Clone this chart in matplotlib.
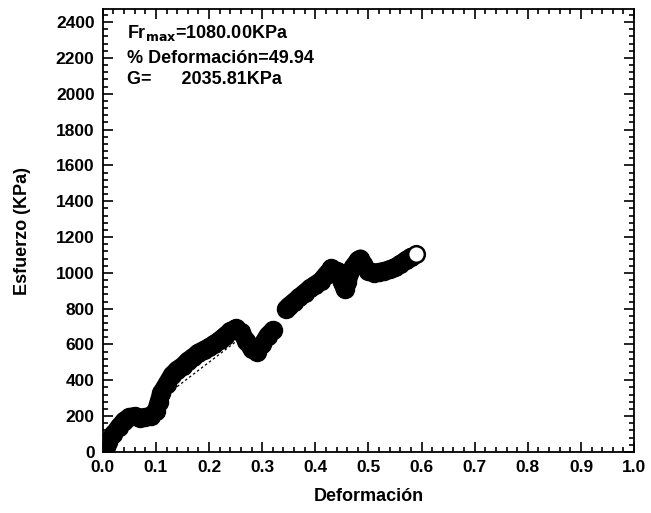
import matplotlib.pyplot as plt
from matplotlib.ticker import MultipleLocator, FormatStrFormatter

def1 = [0.00, 0.005, 0.01, 0.02, 0.03, 0.04, 0.05, 0.06, 0.07, 0.08,
        0.09, 0.10, 0.105, 0.11, 0.12, 0.13, 0.14, 0.15, 0.16, 0.17,
        0.18, 0.19, 0.20, 0.21, 0.22, 0.23, 0.24, 0.25, 0.26, 0.27,
        0.28, 0.29, 0.30, 0.31, 0.32]
esf1 = [0, 25, 55, 100, 140, 175, 195, 200, 190, 195,
        200, 230, 280, 330, 380, 430, 460, 480, 510, 530,
        555, 570, 585, 605, 625, 650, 675, 690, 670, 620,
        575, 560, 600, 650, 680]
def2 = [0.345, 0.35, 0.36, 0.37, 0.38, 0.39, 0.40, 0.41, 0.42, 0.43,
        0.44, 0.45, 0.455, 0.46, 0.47, 0.48, 0.485, 0.49, 0.50, 0.51,
        0.52, 0.53, 0.54, 0.55, 0.56, 0.57, 0.58]
esf2 = [800, 815, 840, 865, 890, 915, 935, 955, 990, 1025,
        1010, 950, 910, 950, 1030, 1070, 1080, 1050, 1010, 1000,
        1005, 1010, 1020, 1030, 1050, 1070, 1090]
ultimo = (0.59, 1105)

# linea punteada de ajuste
ajuste_x = [0.14, 0.25]
ajuste_y = [365, 615]

fuente = 'Liberation Sans'

fig = plt.figure(figsize=(6.51, 5.13), dpi=100)
ax = fig.add_axes([0.158, 0.119, 0.816, 0.863])
ax.plot(ajuste_x, ajuste_y, color='black', linestyle='--', linewidth=0.9, dashes=(2, 2))
for xs, ys in [(def1, esf1), (def2, esf2)]:
    ax.plot(xs, ys, '-', color='black', linewidth=13, solid_capstyle='round')
    ax.plot(xs, ys, 'o', color='black', markersize=13)
ax.plot([ultimo[0]], [ultimo[1]], 'o', markersize=12, markerfacecolor='white',
        markeredgecolor='black', markeredgewidth=1.8)

ax.set_xlim(0, 1.0)
ax.set_ylim(0, 2472)
ax.xaxis.set_major_locator(MultipleLocator(0.1))
ax.xaxis.set_minor_locator(MultipleLocator(0.02))
ax.xaxis.set_major_formatter(FormatStrFormatter('%.1f'))
ax.yaxis.set_major_locator(MultipleLocator(200))
ax.yaxis.set_minor_locator(MultipleLocator(40))
ax.tick_params(which='both', direction='in', top=True, right=True, width=1.2)
ax.tick_params(which='major', length=7, labelsize=12.5, pad=6)
ax.tick_params(which='minor', length=3.5)
for s in ax.spines.values():
    s.set_linewidth(1.3)
for lab in ax.get_xticklabels() + ax.get_yticklabels():
    lab.set_fontfamily(fuente)
    lab.set_fontweight('bold')

ax.set_xlabel('Deformación', fontsize=13, fontweight='bold', family=fuente, labelpad=9)
ax.set_ylabel('Esfuerzo (KPa)', fontsize=13, fontweight='bold', family=fuente, labelpad=18)

txt = dict(transform=ax.transAxes, fontsize=13, fontweight='bold', family=fuente, va='top')
ax.text(0.045, 0.968, r'Fr$_{\mathbf{max}}$=1080.00KPa', **txt)
ax.text(0.045, 0.908, '% Deformación=49.94', **txt)
ax.text(0.045, 0.860, 'G=      2035.81KPa', **txt)

plt.savefig('out.png', dpi=100)
